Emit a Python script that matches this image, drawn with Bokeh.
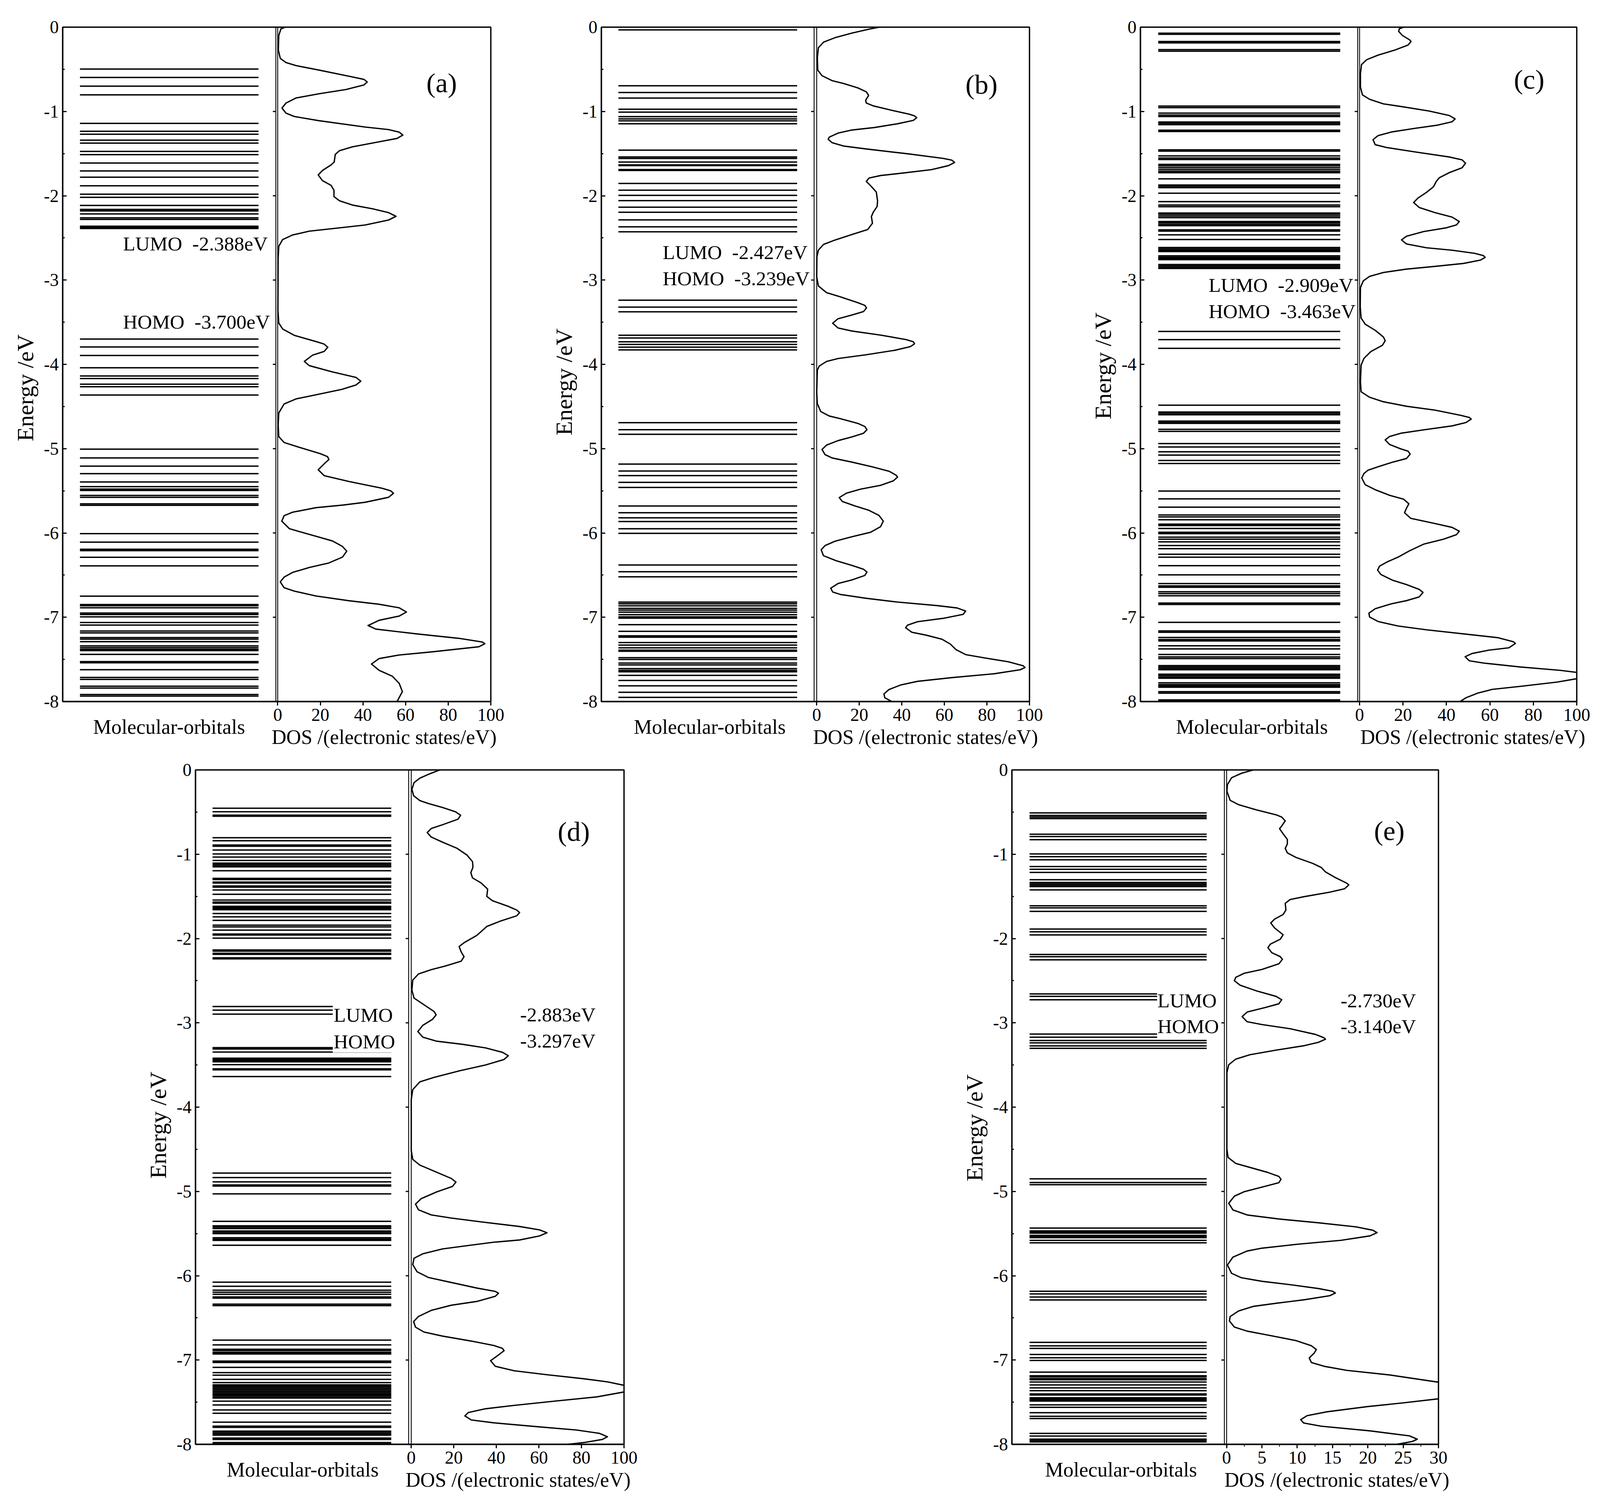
from bokeh.embed import file_html
from bokeh.layouts import column, row
from bokeh.models import FixedTicker, Label, Range1d, Span, Title
from bokeh.plotting import figure
from bokeh.resources import INLINE

Y_TICKS = [0, -1, -2, -3, -4, -5, -6, -7, -8]
Y_MINOR = [-0.5, -1.5, -2.5, -3.5, -4.5, -5.5, -6.5, -7.5]
X_TICKS = [0, 20, 40, 60, 80, 100]
X_TICKS_E = [0, 5, 10, 15, 20, 25, 30]
X_MINOR_E = [2.5, 7.5, 12.5, 17.5, 22.5, 27.5]

LEVELS_A = [-.497,-.597,-.70,-.803,-1.141,-1.235,-1.27,-1.341,-1.376,-1.474,-1.512,-1.612,-1.706,-1.78,-1.882,-1.982,-2.018,-2.115,-2.162,-2.18,-2.215,-2.262,-2.28,-2.362,-2.375,-2.388,
 -3.70,-3.794,-3.894,-4.04,-4.138,-4.168,-4.235,-4.265,-4.364,
 -5.006,-5.11,-5.207,-5.297,-5.395,-5.451,-5.48,-5.496,-5.555,-5.577,-5.655,-5.672,-6.008,-6.109,-6.193,-6.21,-6.289,-6.39,-6.75,-6.849,-6.863,-6.888,-6.95,-6.967,-6.995,-7.062,-7.093,-7.163,-7.185,-7.241,-7.26,-7.29,-7.34,-7.36,-7.38,-7.395,-7.44,-7.526,-7.54,-7.622,-7.714,-7.737,-7.818,-7.84,-7.916,-7.935]

LEVELS_B = [-.032,-.695,-.775,-.841,-.973,-1.008,-1.061,-1.088,-1.111,-1.146,-1.459,-1.54,-1.557,-1.6,-1.634,-1.642,-1.69,-1.7,-1.854,-1.934,-1.995,-2.058,-2.135,-2.196,-2.286,-2.369,-2.427,
 -3.239,-3.321,-3.377,-3.655,-3.687,-3.732,-3.764,-3.796,-3.828,
 -4.692,-4.775,-4.83,-5.183,-5.265,-5.32,-5.4,-5.46,-5.68,-5.76,-5.82,-5.865,-5.95,-6.005,-6.38,-6.46,-6.52,-6.82,-6.84,-6.865,-6.895,-6.915,-6.94,-6.97,-6.995,-7.01,-7.088,-7.167,-7.22,-7.236,-7.3,-7.33,-7.363,-7.39,-7.403,-7.48,-7.5,-7.544,-7.565,-7.61,-7.63,-7.647,-7.69,-7.75,-7.814,-7.89,-7.95]

LEVELS_C = [-.072,-.085,-.17,-.186,-.266,-.285,-.936,-.955,-1.02,-1.043,-1.06,-1.125,-1.14,-1.157,-1.223,-1.237,-1.455,-1.47,-1.527,-1.553,-1.57,-1.628,-1.646,-1.668,-1.689,-1.71,-1.726,-1.80,-1.872,-1.888,-1.904,-1.97,-2.07,-2.11,-2.13,-2.205,-2.22,-2.24,-2.26,-2.306,-2.32,-2.338,-2.354,-2.404,-2.42,-2.463,-2.519,-2.614,-2.63,-2.646,-2.662,-2.713,-2.729,-2.745,-2.758,-2.816,-2.832,-2.848,-2.862,
 -3.61,-3.707,-3.81,
 -4.484,-4.566,-4.582,-4.598,-4.673,-4.69,-4.70,-4.771,-4.795,-4.94,-4.98,-5.037,-5.077,-5.14,-5.176,-5.503,-5.596,-5.694,-5.787,-5.81,-5.843,-5.896,-5.912,-5.947,-5.992,-6.008,-6.05,-6.074,-6.106,-6.15,-6.186,-6.253,-6.287,-6.388,-6.497,-6.6,-6.628,-6.644,-6.697,-6.72,-6.745,-6.832,-6.848,-7.06,-7.162,-7.178,-7.24,-7.264,-7.28,-7.338,-7.375,-7.442,-7.47,-7.49,-7.574,-7.59,-7.606,-7.622,-7.676,-7.69,-7.707,-7.723,-7.777,-7.798,-7.814,-7.83,-7.883,-7.9,-7.98,-7.997]

LEVELS_D = [-.454,-.496,-.536,-.549,-.804,-.84,-.891,-.905,-.95,-.997,-1.034,-1.074,-1.106,-1.122,-1.138,-1.149,-1.196,-1.286,-1.3,-1.33,-1.342,-1.377,-1.39,-1.424,-1.475,-1.544,-1.568,-1.581,-1.618,-1.631,-1.645,-1.658,-1.703,-1.743,-1.785,-1.841,-1.862,-1.9,-1.947,-1.958,-1.995,-2.135,-2.149,-2.175,-2.188,-2.228,-2.241,
 -2.806,-2.849,-2.897,-3.294,-3.31,-3.347,-3.42,-3.435,-3.448,-3.462,-3.496,-3.546,-3.557,-3.637,
 -4.782,-4.835,-4.886,-4.923,-4.936,-5.029,-5.355,-5.408,-5.424,-5.44,-5.469,-5.485,-5.501,-5.549,-5.565,-5.581,-5.639,-6.077,-6.125,-6.172,-6.196,-6.22,-6.252,-6.265,-6.337,-6.355,-6.764,-6.82,-6.873,-6.886,-6.907,-6.918,-6.928,-7.013,-7.029,-7.087,-7.149,-7.18,-7.23,-7.268,-7.294,-7.31,-7.326,-7.342,-7.358,-7.374,-7.39,-7.406,-7.422,-7.438,-7.451,-7.488,-7.533,-7.592,-7.631,-7.737,-7.785,-7.798,-7.843,-7.859,-7.875,-7.891,-7.926,-7.942,-7.979,-7.995]

LEVELS_E = [-.51,-.54,-.559,-.577,-.763,-.79,-.827,-.997,-1.029,-1.066,-1.146,-1.178,-1.215,-1.303,-1.335,-1.351,-1.367,-1.383,-1.423,-1.612,-1.636,-1.678,-1.888,-1.92,-1.957,-2.189,-2.215,-2.253,
 -2.657,-2.686,-2.726,-3.133,-3.17,-3.21,-3.237,-3.274,-3.303,
 -4.851,-4.894,-4.92,-5.434,-5.468,-5.481,-5.495,-5.521,-5.535,-5.548,-5.58,-5.609,-6.184,-6.215,-6.253,-6.287,-6.79,-6.832,-6.862,-6.934,-6.973,-7.005,-7.144,-7.186,-7.199,-7.22,-7.234,-7.261,-7.295,-7.33,-7.364,-7.402,-7.415,-7.447,-7.46,-7.473,-7.487,-7.532,-7.561,-7.625,-7.668,-7.694,-7.87,-7.902,-7.939,-7.955,-7.971]

# (energy, DOS) from top to bottom
CURVE_A = [(0,3.6),(-.02,1.5),(-.1,.5),(-.27,.3),(-.37,1.2),(-.42,3.9),(-.456,8.6),(-.51,19.5),(-.59,35),(-.62,40.5),(-.65,42),(-.685,40.5),(-.74,32),(-.79,19.5),(-.84,8.6),(-.9,3.9),(-.96,2),(-1.02,3.9),(-1.06,7.8),(-1.11,19.5),(-1.185,41),(-1.215,52),(-1.245,57),(-1.28,58.7),(-1.32,56),(-1.36,47.6),(-1.42,35),(-1.465,29),(-1.51,27),(-1.6,26.5),(-1.635,25),(-1.7,21),(-1.753,19),(-1.82,21),(-1.876,25),(-1.935,26.4),(-2.01,26.4),(-2.06,29),(-2.11,35),(-2.155,44.5),(-2.2,52),(-2.244,55.5),(-2.288,52),(-2.347,41),(-2.39,25.7),(-2.42,14.8),(-2.465,7),(-2.52,2.3),(-2.6,.5),(-2.74,.2),(-3.36,.1),(-3.51,.5),(-3.58,2.3),(-3.656,7.8),(-3.73,18),(-3.76,21.8),(-3.797,23.5),(-3.847,21.8),(-3.89,16.4),(-3.965,12.5),(-4.015,14.8),(-4.09,25.7),(-4.155,36.7),(-4.2,39),(-4.245,36.7),(-4.297,30),(-4.353,19.5),(-4.41,8.6),(-4.47,3),(-4.577,.5),(-4.72,.2),(-4.857,.5),(-4.927,3),(-4.983,10),(-5.06,20),(-5.095,23.4),(-5.13,24),(-5.18,21.8),(-5.25,19),(-5.32,21.8),(-5.39,33.5),(-5.47,49),(-5.5,53),(-5.53,54.3),(-5.577,52),(-5.636,41),(-5.67,30.4),(-5.7,18),(-5.754,7),(-5.795,3),(-5.86,1.9),(-5.95,5.5),(-6.05,19.5),(-6.095,25.7),(-6.16,30.4),(-6.216,32.4),(-6.286,30.4),(-6.356,24),(-6.41,14.8),(-6.468,7),(-6.524,3),(-6.58,1.2),(-6.65,3),(-6.69,7.8),(-6.748,18),(-6.804,33.5),(-6.846,47.6),(-6.888,57),(-6.938,60.4),(-6.986,57),(-7.036,47.6),(-7.098,42.4),(-7.14,46),(-7.196,64.7),(-7.25,85),(-7.294,96),(-7.314,97.2),(-7.35,94.4),(-7.41,72.5),(-7.448,57),(-7.49,47.6),(-7.555,44),(-7.63,47.6),(-7.7,53.8),(-7.784,57),(-7.882,58.5),(-8,56)]

CURVE_B = [(0,29.3),(-.024,24.6),(-.07,16.6),(-.125,8.6),(-.178,3.2),(-.244,.8),(-.363,.3),(-.51,.5),(-.576,2.5),(-.634,7.2),(-.668,12.6),(-.72,19.3),(-.767,23.3),(-.81,24.4),(-.867,23),(-.9,23.3),(-.934,26.6),(-.979,34),(-1.032,43.4),(-1.053,46),(-1.074,47),(-1.106,45.4),(-1.146,38),(-1.19,27.3),(-1.22,16.6),(-1.257,10),(-1.305,5.9),(-1.33,5.4),(-1.37,7.2),(-1.41,12.6),(-1.445,23.3),(-1.504,43.4),(-1.557,59.4),(-1.578,63.5),(-1.605,64.8),(-1.642,62),(-1.69,54),(-1.73,40.7),(-1.76,30),(-1.79,24.6),(-1.83,23.3),(-1.88,25.3),(-1.955,28),(-2.06,28.6),(-2.127,28.4),(-2.194,26.6),(-2.247,25.7),(-2.326,26.2),(-2.4,24),(-2.459,16.6),(-2.525,8.6),(-2.578,3.2),(-2.645,.8),(-2.724,.1),(-2.963,0),(-3.07,.8),(-3.149,4.6),(-3.2,11.2),(-3.268,19.3),(-3.30,22.6),(-3.33,23.4),(-3.374,22),(-3.414,16.6),(-3.459,10),(-3.512,7.5),(-3.568,10),(-3.605,16.6),(-3.653,30),(-3.706,42),(-3.732,45.4),(-3.756,46),(-3.79,44),(-3.833,36.7),(-3.886,23.3),(-3.931,10),(-3.966,4.6),(-4.02,1.2),(-4.069,.3),(-4.334,0),(-4.467,.3),(-4.56,1.9),(-4.613,5.9),(-4.645,11.2),(-4.7,19.3),(-4.737,22.6),(-4.775,23.6),(-4.817,22),(-4.86,16.6),(-4.905,10),(-4.958,4.6),(-5.01,2.5),(-5.07,3.9),(-5.11,7.2),(-5.16,16.6),(-5.215,26),(-5.268,34),(-5.316,37.4),(-5.337,38),(-5.382,36),(-5.435,30),(-5.48,20.6),(-5.528,14),(-5.58,10.6),(-5.626,12),(-5.68,18),(-5.732,24.6),(-5.793,29.3),(-5.86,31.3),(-5.926,30),(-5.992,25.3),(-6.045,16.6),(-6.098,8.6),(-6.15,3.9),(-6.2,2.1),(-6.27,3.2),(-6.33,9.2),(-6.385,16.6),(-6.43,22),(-6.464,23.6),(-6.504,22.6),(-6.557,16.6),(-6.6,10),(-6.655,6.6),(-6.7,7.5),(-6.73,11.2),(-6.775,23.3),(-6.82,38),(-6.862,56.8),(-6.89,66),(-6.926,70),(-6.966,68.8),(-7.013,59.4),(-7.053,47.4),(-7.093,42.7),(-7.125,41.8),(-7.178,44.7),(-7.212,51.4),(-7.26,58.8),(-7.318,62.8),(-7.385,65.5),(-7.443,70),(-7.485,79.5),(-7.528,90),(-7.575,97),(-7.597,97.9),(-7.623,95.6),(-7.67,83.5),(-7.716,63.5),(-7.76,47.4),(-7.804,39.4),(-7.857,34),(-7.91,31.6),(-7.955,32),(-8,35.3)]

CURVE_C = [(0,20.3),(-.019,18.3),(-.05,18),(-.098,19.7),(-.15,23),(-.17,23.7),(-.213,22.3),(-.27,16.4),(-.332,8.5),(-.386,3.3),(-.444,.9),(-.55,.4),(-.71,.4),(-.803,1.3),(-.856,4.6),(-.91,11),(-.941,19),(-.995,32),(-1.048,41.3),(-1.088,44),(-1.122,42.6),(-1.162,36),(-1.2,25.6),(-1.242,15),(-1.287,8.5),(-1.335,6.2),(-1.394,7.2),(-1.428,12.5),(-1.48,25.6),(-1.54,41.3),(-1.574,47.2),(-1.614,48.8),(-1.668,47.2),(-1.726,41.3),(-1.787,36.7),(-1.827,35.4),(-1.894,34),(-1.96,30.8),(-2.027,26.9),(-2.08,24.9),(-2.14,27.5),(-2.2,34.7),(-2.253,42.6),(-2.306,45.9),(-2.346,44.6),(-2.38,40),(-2.425,29.5),(-2.48,21.6),(-2.524,19.3),(-2.572,21.6),(-2.617,30.8),(-2.646,42.6),(-2.683,53),(-2.71,57),(-2.731,57.8),(-2.763,55.7),(-2.803,47.8),(-2.838,34.7),(-2.87,21.6),(-2.91,11),(-2.957,4.6),(-3.01,1.7),(-3.09,.4),(-3.316,.3),(-3.45,.7),(-3.524,2.6),(-3.596,7.2),(-3.676,11),(-3.72,11.8),(-3.774,10.5),(-3.848,5.2),(-3.93,2),(-4.01,.7),(-4.205,.4),(-4.325,.7),(-4.39,4.6),(-4.444,11),(-4.497,21.6),(-4.543,34.7),(-4.604,46.5),(-4.63,50.5),(-4.649,51.4),(-4.69,49),(-4.73,42.6),(-4.777,29.5),(-4.817,19),(-4.856,13.8),(-4.896,11.8),(-4.95,13.8),(-5.003,19),(-5.03,22.3),(-5.064,23.3),(-5.117,21.6),(-5.162,15),(-5.215,8.5),(-5.255,3.9),(-5.295,2),(-5.348,1),(-5.428,2.6),(-5.487,7.2),(-5.553,13.8),(-5.6,20.3),(-5.654,22.7),(-5.707,21.6),(-5.76,20.7),(-5.827,23.6),(-5.888,34.7),(-5.934,42.6),(-5.979,45.9),(-6.02,44.6),(-6.074,38.7),(-6.133,29.5),(-6.213,22.9),(-6.287,17.7),(-6.346,12.5),(-6.394,9.2),(-6.44,8.3),(-6.492,9.8),(-6.559,15),(-6.612,21.6),(-6.67,27.5),(-6.705,29.2),(-6.758,27.5),(-6.803,21.6),(-6.838,15),(-6.899,7.2),(-6.952,4.3),(-6.997,4.6),(-7.05,8.5),(-7.104,17.7),(-7.149,30.8),(-7.197,47.8),(-7.242,63.6),(-7.29,70.8),(-7.311,71.7),(-7.362,68.8),(-7.39,59.6),(-7.43,51.8),(-7.468,48.6),(-7.516,50.5),(-7.543,57),(-7.59,74),(-7.63,92.4),(-7.654,100),(-7.688,108),(-7.729,100),(-7.769,91),(-7.82,74),(-7.856,61),(-7.9,54.4),(-7.955,49),(-8,46.3)]

CURVE_D = [(0,13.4),(-.053,8),(-.098,4),(-.151,1.3),(-.23,.3),(-.305,1.1),(-.363,4),(-.398,8),(-.446,14.7),(-.496,20.8),(-.538,23.2),(-.584,22),(-.65,14.7),(-.695,9.4),(-.743,7.5),(-.796,9.4),(-.857,14.7),(-.928,21.4),(-1.008,26.1),(-1.088,28.8),(-1.154,29),(-1.22,28),(-1.281,28.8),(-1.34,32.8),(-1.414,35.9),(-1.5,35.5),(-1.552,38.2),(-1.618,45.6),(-1.663,49.6),(-1.692,50.9),(-1.73,49.6),(-1.796,41.6),(-1.857,35.5),(-1.963,30.8),(-2.05,24.8),(-2.095,22.5),(-2.16,23.5),(-2.215,24.8),(-2.268,23.5),(-2.326,16),(-2.369,9.4),(-2.42,3.4),(-2.493,.7),(-2.613,.3),(-2.706,1.3),(-2.798,6.7),(-2.865,10.7),(-2.905,11.7),(-2.958,10),(-3.03,5.4),(-3.103,3.1),(-3.17,5.4),(-3.218,12),(-3.255,24.1),(-3.297,34.9),(-3.35,42.9),(-3.39,45.6),(-3.435,43.6),(-3.5,34.9),(-3.568,22.8),(-3.647,10.7),(-3.7,4),(-3.793,.7),(-3.912,0),(-4.515,0),(-4.62,.7),(-4.687,4),(-4.759,10.7),(-4.846,18.8),(-4.889,21),(-4.94,19.4),(-5.005,12),(-5.085,4.7),(-5.151,2),(-5.218,3.4),(-5.279,9.4),(-5.316,18.8),(-5.363,33.5),(-5.416,50.9),(-5.456,60.3),(-5.49,63.8),(-5.528,60.3),(-5.576,50.9),(-5.602,38.9),(-5.637,28.2),(-5.682,14.7),(-5.74,5.4),(-5.793,1.3),(-5.867,.7),(-5.952,2.7),(-6.02,8),(-6.08,18.8),(-6.146,30.8),(-6.186,39.5),(-6.207,41),(-6.244,39.5),(-6.305,30.8),(-6.35,18.8),(-6.411,9.4),(-6.483,3.4),(-6.544,1.1),(-6.61,2),(-6.668,6),(-6.716,14.7),(-6.775,28.2),(-6.828,38.9),(-6.862,42.9),(-6.889,43.6),(-6.942,40.9),(-7.008,37.3),(-7.074,39.5),(-7.127,48.3),(-7.172,63),(-7.22,80.4),(-7.26,92.5),(-7.3,100),(-7.34,105.9),(-7.379,100),(-7.438,87),(-7.485,68.4),(-7.538,48.3),(-7.578,34.9),(-7.623,26.8),(-7.663,25.2),(-7.711,28.2),(-7.745,38.9),(-7.79,59),(-7.83,77.7),(-7.87,88.5),(-7.91,92.2),(-7.942,89.8),(-7.976,81.8),(-8,73.7)]

CURVE_E = [(0,3.75),(-.04,2.1),(-.093,.7),(-.173,.12),(-.253,.04),(-.36,.5),(-.412,1.7),(-.473,4.2),(-.532,7),(-.559,7.8),(-.604,8.3),(-.665,7.8),(-.697,7.5),(-.758,8),(-.824,8.6),(-.878,8.6),(-.93,8.3),(-.984,8.6),(-1.037,9.8),(-1.109,12.2),(-1.157,13.4),(-1.21,14),(-1.277,15.4),(-1.343,17),(-1.364,17.3),(-1.41,16.7),(-1.45,14.6),(-1.503,11),(-1.537,9),(-1.582,8.3),(-1.662,8.4),(-1.715,8),(-1.769,6.8),(-1.816,6.25),(-1.875,6.8),(-1.955,8),(-2.008,7.6),(-2.066,6.2),(-2.109,5.85),(-2.168,6.4),(-2.215,7.6),(-2.247,7.9),(-2.3,7.4),(-2.367,5),(-2.412,2.5),(-2.46,1.3),(-2.5,1.1),(-2.553,1.9),(-2.62,4.2),(-2.686,7),(-2.726,7.8),(-2.774,7.4),(-2.82,5.4),(-2.872,2.9),(-2.926,2.2),(-2.987,2.9),(-3.02,5),(-3.07,9),(-3.138,12.6),(-3.178,13.8),(-3.194,14),(-3.231,13),(-3.271,11),(-3.324,7),(-3.378,3.3),(-3.43,1.3),(-3.497,.3),(-3.59,.04),(-4.497,.04),(-4.596,.2),(-4.668,1.3),(-4.715,3.3),(-4.774,5.8),(-4.822,7.4),(-4.856,7.7),(-4.896,7.4),(-4.94,5.4),(-5.003,2.5),(-5.056,1.1),(-5.141,.3),(-5.22,.9),(-5.279,2.9),(-5.327,7.4),(-5.372,13),(-5.42,18.3),(-5.46,20.7),(-5.489,21.3),(-5.527,20.3),(-5.58,16.2),(-5.625,10.2),(-5.673,5),(-5.707,2.9),(-5.779,.9),(-5.872,.12),(-5.971,.7),(-6.024,2.1),(-6.066,5),(-6.106,9),(-6.152,13),(-6.184,15),(-6.205,15.4),(-6.237,14.6),(-6.285,11),(-6.327,7),(-6.364,3.75),(-6.418,1.7),(-6.484,.5),(-6.537,.4),(-6.609,1.1),(-6.657,2.9),(-6.71,6.2),(-6.769,9.8),(-6.83,12),(-6.875,12.7),(-6.918,12.4),(-6.976,11.7),(-7.029,12),(-7.074,13.8),(-7.122,17),(-7.176,23),(-7.263,30),(-7.32,33.2),(-7.46,30),(-7.508,25),(-7.553,19.9),(-7.614,14.2),(-7.66,11.4),(-7.707,10.5),(-7.747,10.9),(-7.785,13.4),(-7.84,20.3),(-7.9,25.9),(-7.939,27),(-7.966,26.3),(-8,24.1)]

FONT = "Liberation Serif"
SX = 0.9528  # the browser window is capped at 4096 wide; layout below is given in picture pixels
SY = 1.0


def csx(v):
    return int(round(v * SX))


def csy(v):
    return int(round(v * SY))


def panel(canvas, frame, xmin, xmax, x_ticks, x_minor, levels, curve, level_span, inner_px,
          tag, tag_at, ylabel_center, mol_center, dos_center, texts, box=None):
    cl, ct, cr, cb = canvas
    fl, ft, fr, fb = frame
    p = figure(width=csx(cr) - csx(cl), height=csy(cb) - csy(ct), output_backend="svg", toolbar_location=None,
               x_range=Range1d(xmin, xmax), y_range=Range1d(-8, 0),
               min_border_left=csx(fl) - csx(cl), min_border_right=csx(cr) - csx(fr),
               min_border_top=csy(ft) - csy(ct), min_border_bottom=csy(cb) - csy(fb),
               outline_line_color="black", outline_line_width=3.4, outline_line_alpha=1,
               background_fill_color="white", border_fill_color=None)
    p.grid.visible = False

    px = (xmax - xmin) / (fr - fl)  # data units per picture pixel

    def dx(v):
        return xmin + (v - fl) * px

    def dy(v):
        return -8 * (v - ft) / (fb - ft)

    ax = p.yaxis[0]
    ax.ticker = FixedTicker(ticks=Y_TICKS, minor_ticks=Y_MINOR)
    ax.major_label_overrides = {t: str(t) for t in Y_TICKS}
    ax.major_tick_in, ax.major_tick_out = 10, 0
    ax.minor_tick_in, ax.minor_tick_out = 5, 0
    ax.major_tick_line_width = 3
    ax.minor_tick_line_width = 3
    ax.major_label_standoff = 10
    ax.axis_line_width = 3.4
    ax.major_label_text_font = FONT
    ax.major_label_text_font_size = "46px"
    ax.major_label_text_color = "black"

    ax = p.xaxis[0]
    ax.ticker = FixedTicker(ticks=x_ticks, minor_ticks=x_minor)
    ax.major_tick_in, ax.major_tick_out = 0, 10
    ax.minor_tick_in, ax.minor_tick_out = 0, 6
    ax.major_tick_line_width = 3
    ax.minor_tick_line_width = 2
    ax.major_label_standoff = 8
    ax.axis_line_width = 3.4
    ax.major_label_text_font = FONT
    ax.major_label_text_font_size = "46px"
    ax.major_label_text_color = "black"

    # texts under the axes: they must sit in the tick-label band, hence the negative standoffs
    p.add_layout(Title(text="Molecular-orbitals", text_font=FONT, text_font_size=f"{55 * SX:.1f}px",
                       text_font_style="normal", text_color="black", align="left", vertical_align="top",
                       offset=int((mol_center - 202 - fl) * SX), standoff=-33), "below")
    p.add_layout(Title(text="DOS /(electronic states/eV)", text_font=FONT, text_font_size=f"{54.7 * SX:.1f}px",
                       text_font_style="normal", text_color="black", align="left", vertical_align="top",
                       offset=int((dos_center - 301 - fl) * SX), standoff=-33), "below")
    p.add_layout(Title(text="Energy /eV", text_font=FONT, text_font_size="60px",
                       text_font_style="normal", text_color="black", align="left",
                       offset=csy(fb - ylabel_center - 141), standoff=23), "left")

    # molecular-orbital levels
    n = len(levels)
    p.segment(x0=[level_span[0]] * n, x1=[level_span[1]] * n, y0=levels, y1=levels,
              line_color="black", line_width=3.5)

    if box:
        p.quad(left=box[0], right=box[1], top=box[2], bottom=box[3],
               fill_color="white", line_color=None)

    # double line at DOS zero and its ticks
    inner = -inner_px * px
    p.add_layout(Span(location=0, dimension="height", line_color="black", line_width=2.2))
    p.add_layout(Span(location=inner, dimension="height", line_color="black", line_width=2.2))
    m = len(Y_TICKS)
    p.segment(x0=[inner - 8 * px] * m, x1=[inner] * m, y0=Y_TICKS, y1=Y_TICKS,
              line_color="black", line_width=3)

    p.line([c[1] for c in curve], [c[0] for c in curve], line_color="black", line_width=3.4,
           line_join="round")

    def txt(s, x, y, size, align="left"):
        p.add_layout(Label(x=dx(x), y=dy(y), text=s, text_font=FONT, text_font_size=f"{size * SX:.1f}px",
                           text_align=align, text_baseline="middle", text_color="black"))

    txt(tag, tag_at[0], tag_at[1], 74, "center")
    for s, x, y in texts:
        txt(s, x, y, 54)
    return p


top, mid, bot = 0, 1945, 3850

pa = panel((0, top, 1430, mid), (168, 69, 1318, 1801), -100.9, 100, X_TICKS, [], LEVELS_A, CURVE_A,
           (-92.8, -9), 5, "(a)", (1186, 212), 994, 452, 1031,
           [("LUMO\u00a0 -2.388eV", 330, 625), ("HOMO\u00a0 -3.700eV", 330, 826)])
pb = panel((1430, top, 2870, mid), (1615, 69, 2766, 1801), -101.2, 100, X_TICKS, [], LEVELS_B, CURVE_B,
           (-93.2, -9.2), 7, "(b)", (2637, 216), 979, 1905, 2485,
           [("LUMO\u00a0 -2.427eV", 1780, 647), ("HOMO\u00a0 -3.239eV", 1780, 714)])
pc = panel((2870, top, 4290, mid), (3064, 69, 4236, 1795), -100.9, 100, X_TICKS, [], LEVELS_C, CURVE_C,
           (-92.7, -8.9), 5, "(c)", (4108, 202), 932, 3362, 3956,
           [("LUMO\u00a0 -2.909eV", 3247, 729), ("HOMO\u00a0 -3.463eV", 3247, 796)])
pd_ = panel((0, mid, 2500, bot), (525, 1970, 1676, 3703), -101.4, 100, X_TICKS, [], LEVELS_D, CURVE_D,
            (-93.4, -9.4), 7, "(d)", (1541, 2128), 2882, 811, 1391,
            [("LUMO", 896, 2600), ("HOMO", 896, 2668), ("-2.883eV", 1397, 2599), ("-3.297eV", 1397, 2666)],
            box=(-36.9, -8, -2.78, -3.352))
pe = panel((2500, mid, 4290, bot), (2718, 1970, 3864, 3696), -30.4, 30, X_TICKS_E, X_MINOR_E, LEVELS_E, CURVE_E,
           (-27.9, -2.82), 6, "(e)", (3732, 2125), 2882, 3010, 3590,
           [("LUMO", 3109, 2560), ("HOMO", 3109, 2626), ("-2.730eV", 3601, 2560), ("-3.140eV", 3601, 2626)],
           box=(-9.84, -2.5, -2.64, -3.19))

page = column(row(pa, pb, pc), row(pd_, pe))
open("out.html", "w").write(file_html(page, INLINE))
